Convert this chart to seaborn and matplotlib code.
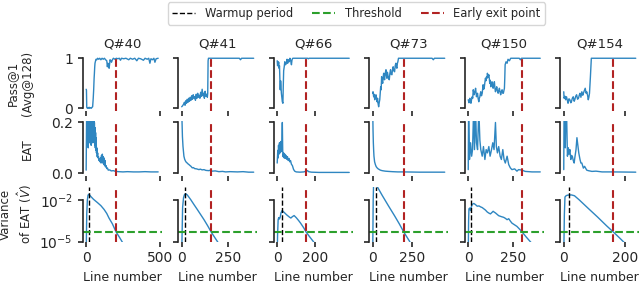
import numpy as np
import pandas as pd
import matplotlib
matplotlib.use("Agg")
import matplotlib.pyplot as plt
from matplotlib.lines import Line2D
from matplotlib.ticker import NullLocator
import seaborn as sns

# Questions shown, one per column
questions = ["Q#40", "Q#41", "Q#66", "Q#73", "Q#150", "Q#154"]
warmup_line = [16, 18, 24, 21, 18, 18]
exit_line = [204, 159, 152, 199, 301, 162]
x_ticks = [[0, 500], [0, 250], [0, 200], [0, 250], [0, 250], [0, 200]]
threshold = 5e-5

# Pass@1 (Avg@128) per line number as (line, value)
q40_pass = [(0, 0.38), (2, 0.36), (4, 0.02), (8, 0.0), (12, 0.01), (16, 0.0), (20, 0.02), (25, 0.0),
            (30, 0.01), (35, 0.0), (40, 0.02), (44, 0.03), (48, 0.2), (51, 0.37), (54, 0.6), (56, 0.7),
            (58, 0.82), (60, 0.9), (64, 0.95), (67, 0.98), (72, 0.97), (78, 1.0), (85, 0.98), (92, 1.0),
            (100, 0.97), (108, 1.0), (116, 0.98), (124, 1.0), (132, 0.97), (140, 0.95), (144, 0.83),
            (148, 0.9), (152, 0.86), (156, 0.8), (160, 0.9), (162, 0.97), (168, 0.95), (172, 0.92),
            (178, 0.97), (185, 1.0), (195, 0.98), (205, 1.0), (215, 0.99), (225, 1.0), (233, 0.96),
            (240, 1.0), (255, 0.99), (270, 1.0), (289, 0.97), (300, 1.0), (315, 0.98), (330, 1.0),
            (344, 0.95), (355, 1.0), (370, 0.99), (389, 0.96), (400, 1.0), (415, 0.98), (425, 1.0),
            (433, 0.9), (440, 0.99), (451, 0.97), (460, 1.0), (467, 0.92), (475, 0.99), (489, 1.0)]
q41_pass = [(0, 0.03), (5, 0.05), (10, 0.08), (15, 0.12), (18, 0.06), (22, 0.15), (26, 0.1), (30, 0.18),
            (34, 0.12), (38, 0.2), (42, 0.14), (46, 0.22), (50, 0.16), (54, 0.25), (58, 0.18), (62, 0.27),
            (66, 0.2), (70, 0.23), (74, 0.16), (78, 0.28), (82, 0.2), (86, 0.3), (90, 0.22), (94, 0.26),
            (98, 0.2), (102, 0.32), (106, 0.24), (110, 0.38), (114, 0.25), (118, 0.3), (122, 0.2),
            (126, 0.34), (130, 0.24), (134, 0.28), (138, 0.22), (140, 0.3), (142, 0.95), (144, 1.0),
            (200, 1.0), (310, 1.0), (316, 0.97), (322, 1.0), (387, 1.0)]
q66_pass = [(0, 0.95), (2, 0.85), (4, 0.93), (6, 0.88), (8, 0.92), (10, 0.8), (12, 0.85), (14, 0.6),
            (16, 0.37), (18, 0.55), (20, 0.45), (22, 0.3), (25, 0.2), (27, 0.13), (30, 0.1), (32, 0.45),
            (34, 0.75), (37, 0.83), (40, 0.93), (44, 0.87), (48, 0.9), (52, 0.98), (55, 0.9), (59, 0.97),
            (63, 0.93), (67, 1.0), (71, 0.95), (75, 0.87), (78, 0.97), (82, 1.0), (160, 1.0), (164, 0.99),
            (168, 1.0), (379, 1.0)]
q73_pass = [(0, 0.3), (2, 0.33), (6, 0.23), (9, 0.28), (13, 0.17), (17, 0.24), (21, 0.27), (25, 0.18),
            (28, 0.13), (31, 0.2), (34, 0.1), (38, 0.03), (42, 0.12), (45, 0.17), (48, 0.3), (51, 0.43),
            (54, 0.37), (57, 0.63), (60, 0.55), (64, 0.5), (67, 0.62), (70, 0.7), (73, 0.62), (76, 0.57),
            (80, 0.7), (85, 0.77), (88, 0.65), (91, 0.6), (94, 0.72), (97, 0.67), (101, 0.6), (106, 0.57),
            (110, 0.7), (114, 0.77), (118, 0.68), (123, 0.67), (127, 0.78), (131, 0.83), (135, 0.75),
            (140, 0.73), (144, 0.85), (148, 0.9), (152, 0.82), (155, 0.8), (158, 0.9), (161, 0.93),
            (165, 1.0), (380, 1.0), (388, 0.97), (395, 1.0), (461, 1.0)]
q150_pass = [(0, 0.17), (4, 0.11), (9, 0.2), (12, 0.14), (15, 0.1), (19, 0.18), (22, 0.23), (25, 0.2),
             (28, 0.37), (33, 0.27), (37, 0.33), (41, 0.4), (44, 0.3), (46, 0.23), (49, 0.28), (52, 0.3),
             (55, 0.2), (59, 0.13), (62, 0.2), (65, 0.23), (68, 0.3), (70, 0.33), (74, 0.25), (78, 0.3),
             (83, 0.47), (86, 0.38), (89, 0.4), (93, 0.52), (96, 0.6), (99, 0.55), (102, 0.63), (105, 0.6),
             (107, 0.7), (111, 0.62), (115, 0.67), (118, 0.58), (120, 0.5), (123, 0.56), (126, 0.43),
             (130, 0.5), (133, 0.53), (136, 0.45), (139, 0.4), (143, 0.48), (146, 0.53), (149, 0.4),
             (152, 0.33), (156, 0.38), (159, 0.43), (163, 0.35), (167, 0.3), (171, 0.36), (174, 0.4),
             (178, 0.32), (181, 0.27), (185, 0.33), (189, 0.37), (193, 0.3), (196, 0.3), (199, 0.35),
             (202, 0.4), (204, 0.6), (206, 0.87), (211, 0.93), (217, 0.9), (222, 0.98), (230, 0.95),
             (237, 1.0), (285, 1.0), (291, 0.97), (297, 1.0), (402, 1.0)]
q154_pass = [(0, 0.33), (1, 0.2), (4, 0.24), (6, 0.17), (9, 0.23), (12, 0.15), (14, 0.1), (17, 0.19),
             (20, 0.17), (23, 0.11), (25, 0.13), (28, 0.2), (31, 0.23), (34, 0.14), (36, 0.17), (39, 0.24),
             (42, 0.27), (45, 0.18), (48, 0.2), (51, 0.27), (53, 0.3), (56, 0.22), (59, 0.33), (62, 0.26),
             (64, 0.3), (67, 0.35), (70, 0.4), (73, 0.3), (75, 0.33), (78, 0.25), (80, 0.17), (82, 0.22),
             (84, 0.3), (87, 0.63), (90, 1.0), (235, 1.0)]

# EAT per line number, as (line, value)
q40_eat = [(0, 0.012), (2, 0.15), (4, 0.3), (6, 0.12), (8, 0.28), (10, 0.14), (12, 0.3), (14, 0.1),
           (16, 0.26), (18, 0.15), (20, 0.3), (22, 0.12), (24, 0.25), (26, 0.16), (28, 0.3), (30, 0.13),
           (32, 0.24), (34, 0.11), (36, 0.28), (38, 0.15), (40, 0.22), (42, 0.12), (44, 0.26), (46, 0.14),
           (48, 0.2), (50, 0.13), (52, 0.25), (54, 0.12), (56, 0.2), (58, 0.11), (60, 0.18), (62, 0.1),
           (64, 0.16), (66, 0.09), (68, 0.14), (70, 0.08), (72, 0.1), (75, 0.065), (78, 0.08), (81, 0.06),
           (84, 0.065), (87, 0.05), (90, 0.055), (94, 0.045), (98, 0.06), (101, 0.04), (104, 0.07),
           (107, 0.045), (110, 0.075), (113, 0.04), (116, 0.065), (119, 0.035), (122, 0.06), (125, 0.03),
           (128, 0.05), (131, 0.025), (135, 0.03), (140, 0.018), (145, 0.02), (150, 0.012), (160, 0.013),
           (170, 0.009), (185, 0.01), (200, 0.007), (220, 0.006), (250, 0.005), (280, 0.006), (320, 0.005),
           (360, 0.005), (400, 0.006), (440, 0.005), (489, 0.005)]
q41_eat = [(0, 0.25), (2, 0.2), (4, 0.145), (7, 0.106), (12, 0.067), (16, 0.055), (21, 0.047), (26, 0.042),
           (30, 0.04), (35, 0.036), (39, 0.034), (45, 0.03), (50, 0.027), (57, 0.021), (63, 0.022),
           (70, 0.018), (80, 0.017), (93, 0.014), (100, 0.016), (110, 0.013), (120, 0.014), (130, 0.011),
           (146, 0.01), (155, 0.012), (164, 0.008), (180, 0.009), (200, 0.006), (220, 0.007), (236, 0.005),
           (260, 0.006), (300, 0.005), (330, 0.006), (360, 0.004), (387, 0.004)]
q66_eat = [(0, 0.04), (3, 0.09), (5, 0.06), (7, 0.11), (9, 0.075), (12, 0.12), (15, 0.08), (19, 0.125),
           (22, 0.085), (25, 0.13), (27, 0.2), (29, 0.09), (31, 0.065), (34, 0.08), (37, 0.06), (40, 0.075),
           (43, 0.058), (46, 0.07), (50, 0.055), (54, 0.065), (58, 0.05), (62, 0.058), (66, 0.045),
           (70, 0.05), (75, 0.035), (80, 0.03), (86, 0.015), (92, 0.008), (100, 0.005), (120, 0.004),
           (140, 0.005), (160, 0.01), (165, 0.006), (180, 0.004), (220, 0.003), (280, 0.003), (379, 0.003)]
q73_eat = [(0, 0.25), (2, 0.17), (4, 0.12), (6, 0.09), (8, 0.067), (12, 0.045), (17, 0.034), (22, 0.026),
           (28, 0.021), (35, 0.017), (49, 0.012), (60, 0.01), (80, 0.008), (100, 0.007), (125, 0.006),
           (160, 0.005), (200, 0.005), (300, 0.004), (400, 0.004), (461, 0.004)]
q150_eat = [(0, 0.014), (2, 0.25), (7, 0.054), (13, 0.12), (19, 0.067), (24, 0.093), (30, 0.25), (35, 0.093),
            (41, 0.25), (46, 0.12), (52, 0.093), (59, 0.25), (65, 0.13), (70, 0.093), (78, 0.067),
            (85, 0.105), (93, 0.054), (100, 0.093), (107, 0.08), (115, 0.105), (122, 0.067), (130, 0.093),
            (137, 0.12), (144, 0.093), (152, 0.2), (157, 0.105), (163, 0.08), (170, 0.105), (178, 0.067),
            (185, 0.054), (193, 0.093), (200, 0.054), (207, 0.04), (217, 0.067), (226, 0.034), (235, 0.021),
            (244, 0.014), (259, 0.017), (272, 0.008), (281, 0.014), (300, 0.012), (318, 0.007),
            (356, 0.005), (402, 0.005)]
q154_eat = [(0, 0.014), (1, 0.25), (3, 0.25), (5, 0.1), (7, 0.25), (9, 0.25), (12, 0.067), (15, 0.1),
            (17, 0.075), (20, 0.093), (23, 0.054), (25, 0.07), (28, 0.067), (31, 0.05), (34, 0.04),
            (36, 0.06), (40, 0.093), (43, 0.14), (46, 0.11), (49, 0.08), (53, 0.054), (56, 0.04), (59, 0.04),
            (64, 0.02), (68, 0.027), (75, 0.012), (80, 0.01), (92, 0.007), (105, 0.008), (125, 0.005),
            (160, 0.005), (235, 0.004)]

# Variance of EAT, as (line, log10 of variance)
q40_var = [(0, -6), (4, -3.0), (8, -2.0), (12, -1.65), (16, -1.56), (25, -1.62), (33, -1.73), (50, -1.92),
           (78, -2.17), (100, -2.38), (122, -2.66), (140, -2.95), (155, -3.28), (178, -3.7), (204, -4.31),
           (225, -4.66), (244, -5.0), (260, -5.3)]
q41_var = [(0, -6), (5, -2.5), (10, -1.8), (15, -1.58), (21, -1.51), (30, -1.6), (48, -1.93), (66, -2.3),
           (84, -2.66), (102, -3.03), (120, -3.4), (140, -3.85), (159, -4.31), (178, -4.7), (196, -5.07),
           (210, -5.4)]
q66_var = [(0, -6), (2, -4.5), (5, -3.4), (8, -3.25), (12, -3.35), (16, -3.2), (20, -2.9), (26, -2.74),
           (35, -2.85), (50, -3.05), (65, -3.22), (72, -3.28), (80, -3.18), (89, -3.1), (100, -3.25),
           (112, -3.45), (123, -3.65), (140, -4.0), (152, -4.3), (175, -4.72), (191, -5.0), (205, -5.3)]
q73_var = [(0, -6), (3, -2.0), (6, -0.6), (10, -0.45), (20, -0.75), (28, -0.98), (60, -1.62), (100, -2.38),
           (140, -3.12), (170, -3.7), (199, -4.3), (233, -4.92), (250, -5.25)]
q150_var = [(0, -6), (2, -3.5), (4, -2.61), (9, -2.55), (13, -2.74), (17, -2.5), (22, -2.29), (31, -2.22),
            (40, -2.3), (50, -2.42), (60, -2.4), (69, -2.47), (78, -2.52), (87, -2.61), (96, -2.7),
            (106, -2.84), (115, -2.92), (124, -2.98), (132, -2.88), (139, -2.79), (145, -2.85),
            (152, -2.91), (160, -3.0), (170, -3.11), (185, -3.18), (198, -3.23), (207, -3.3), (217, -3.4),
            (226, -3.33), (235, -3.5), (244, -3.65), (258, -3.77), (272, -3.89), (286, -4.08),
            (301, -4.3), (325, -4.68), (350, -5.05), (360, -5.2)]
q154_var = [(0, -6), (2, -3.0), (4, -1.75), (8, -1.65), (14, -1.61), (25, -1.6), (35, -1.66), (50, -1.95),
            (80, -2.58), (110, -3.2), (140, -3.85), (162, -4.3), (180, -4.68), (197, -5.05), (210, -5.3)]

pass_data = [q40_pass, q41_pass, q66_pass, q73_pass, q150_pass, q154_pass]
eat_data = [q40_eat, q41_eat, q66_eat, q73_eat, q150_eat, q154_eat]
var_data = [q40_var, q41_var, q66_var, q73_var, q150_var, q154_var]

blue = "#2e86c1"
red = "firebrick"
green = "#2ca02c"

sns.set_style("ticks")
plt.rcParams["font.family"] = ["DejaVu Sans"]
plt.rcParams["font.size"] = 9
plt.rcParams["axes.linewidth"] = 1.2

fig, axes = plt.subplots(3, 6, figsize=(6.4, 2.83), dpi=100, sharex="col", sharey="row")
plt.subplots_adjust(left=0.129, right=0.999, top=0.803, bottom=0.146, wspace=0.206, hspace=0.19)
axes[2, 0].set_yscale("log")

for j, q in enumerate(questions):
    df_pass = pd.DataFrame(pass_data[j], columns=["line", "value"])
    df_eat = pd.DataFrame(eat_data[j], columns=["line", "value"])
    df_var = pd.DataFrame(var_data[j], columns=["line", "log"])
    df_var["value"] = 10.0 ** df_var["log"]

    sns.lineplot(data=df_pass, x="line", y="value", ax=axes[0, j], color=blue, lw=1.0, estimator=None)
    sns.lineplot(data=df_eat, x="line", y="value", ax=axes[1, j], color=blue, lw=1.0, estimator=None)
    sns.lineplot(data=df_var, x="line", y="value", ax=axes[2, j], color=blue, lw=1.0, estimator=None)

    for i in range(3):
        axes[i, j].axvline(exit_line[j], color=red, ls="--", lw=1.5)
        axes[i, j].set_xlabel("")
        axes[i, j].set_ylabel("")
    axes[2, j].axvline(warmup_line[j], color="k", ls="--", lw=1.0)
    axes[2, j].axhline(threshold, color=green, ls="--", lw=1.5)

    axes[0, j].set_title(q, fontsize=9.5)
    axes[2, j].set_xlabel("Line number", fontsize=9)
    axes[2, j].set_xticks(x_ticks[j])

axes[0, 0].set_ylim(-0.05, 1.05)
axes[0, 0].set_yticks([0, 1])
axes[1, 0].set_ylim(-0.012, 0.205)
axes[1, 0].set_yticks([0.0, 0.2])
axes[2, 0].set_ylim(1e-5, 1e-1)
axes[2, 0].set_yticks([1e-5, 1e-2])
for ax in axes[2]:
    ax.yaxis.set_minor_locator(NullLocator())

axes[0, 0].set_ylabel("Pass@1\n(Avg@128)", fontsize=8.5)
axes[1, 0].set_ylabel("EAT", fontsize=8.5)
axes[2, 0].set_ylabel("Variance\nof EAT ($\\hat{V}$)", fontsize=8.5)

sns.despine(fig=fig, trim=True)
for ax in axes.flat:
    ax.spines["bottom"].set_visible(False)
    ax.tick_params(length=3.5, width=1.2, labelsize=10, color="0.15")
    ax.tick_params(axis="x", bottom=True)
fig.align_ylabels(axes[:, 0])

handles = [Line2D([], [], color="k", ls="--", lw=1.0),
           Line2D([], [], color=green, ls="--", lw=1.5),
           Line2D([], [], color=red, ls="--", lw=1.5)]
fig.legend(handles, ["Warmup period", "Threshold", "Early exit point"], loc="upper center",
           bbox_to_anchor=(0.557, 1.0), ncol=3, fontsize=8.3, frameon=True, borderaxespad=0.2,
           columnspacing=1.7)

plt.savefig("out.png", dpi=100)
